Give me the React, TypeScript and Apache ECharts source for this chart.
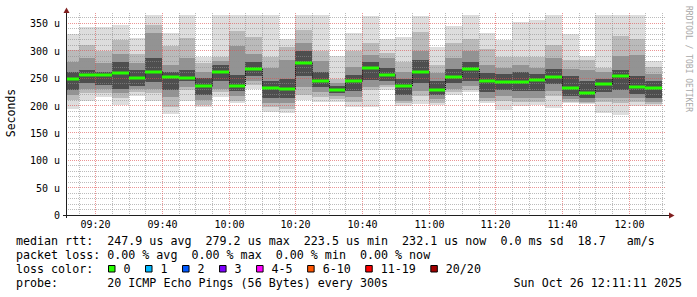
import React, { useEffect, useRef } from 'react';
import * as echarts from 'echarts';

const FONT = '"DejaVu Sans Mono", "Liberation Mono", monospace';

// time window shown
const windowStart = '09:11:11';
const windowEnd = '12:11:11';

// five-minute slots (start times)
const slotTimes = [
  '09:10', '09:15', '09:20', '09:25', '09:30', '09:35', '09:40', '09:45', '09:50', '09:55',
  '10:00', '10:05', '10:10', '10:15', '10:20', '10:25', '10:30', '10:35', '10:40', '10:45',
  '10:50', '10:55', '11:00', '11:05', '11:10', '11:15', '11:20', '11:25', '11:30', '11:35',
  '11:40', '11:45', '11:50', '11:55', '12:00', '12:05',
];

// smoke (microseconds): outer range .. inner range, and median
const maxs = [332, 345, 345, 348, 324, 366, 334, 366, 290, 366, 366, 366, 366, 322, 366, 366, 291, 333, 365, 322, 327, 364, 308, 346, 366, 333, 321, 354, 357, 366, 331, 291, 366, 366, 366, 282];
const hi2 = [303, 312, 300, 320, 296, 348, 309, 324, 278, 290, 338, 327, 290, 307, 339, 300, 250, 301, 315, 297, 281, 336, 275, 315, 322, 305, 290, 290, 290, 311, 284, 284, 270, 328, 322, 272];
const hi3 = [281, 287, 278, 296, 278, 333, 275, 287, 263, 282, 310, 295, 269, 284, 315, 283, 243, 272, 293, 288, 262, 300, 260, 287, 300, 275, 270, 275, 270, 287, 268, 265, 262, 292, 293, 258];
const hi4 = [263, 266, 263, 281, 266, 288, 263, 266, 251, 275, 257, 280, 245, 250, 300, 262, 236, 257, 280, 270, 250, 285, 245, 268, 280, 260, 258, 262, 258, 268, 255, 245, 250, 265, 255, 245];
const medians = [250, 256, 256, 261, 252, 263, 253, 252, 236, 261.7, 236.7, 268, 233, 230.7, 279.2, 246, 229.5, 245, 270, 257.5, 236.7, 263, 229.4, 253.5, 267.5, 246.5, 244.6, 244, 247.7, 253.5, 233.5, 223.5, 240, 255, 235.5, 232.1];
const lo4 = [230, 242, 239, 232, 237, 244, 229, 245, 220, 245, 228, 254, 214, 214, 254, 235, 224, 228, 248, 245, 220, 242, 220, 242, 245, 225, 230, 228, 228, 240, 218, 214, 226, 230, 222, 215];
const lo3 = [220, 232, 232, 223, 231, 232, 216, 234, 211, 232, 218, 246, 205, 205, 235, 225, 218, 216, 235, 238, 210, 228, 212, 232, 236, 215, 218, 215, 215, 228, 212, 208, 215, 215, 214, 208];
const lo2 = [211, 223, 223, 214, 226, 223, 199, 229, 202, 225, 210, 238, 199, 195, 220, 217, 213, 208, 229, 235, 205, 218, 206, 226, 230, 210, 210, 208, 208, 218, 208, 205, 208, 205, 208, 204];
const mins = [194, 210, 216, 202, 218, 210, 186, 210, 199, 217, 205, 231, 190, 187, 211, 208, 207, 199, 199, 230, 200, 204, 202, 220, 226, 206, 193, 200, 202, 196, 205, 204, 188, 184, 200, 200];

// axis tick labels
const timeLabels = ['09:20', '09:40', '10:00', '10:20', '10:40', '11:00', '11:20', '11:40', '12:00'];
const yMax = 370;
const yLabelStep = 50;
const yGridStep = 10;
const xGridStep = 5;

// legend texts
const legendLine1 = 'median rtt:  247.9 us avg  279.2 us max  223.5 us min  232.1 us now  0.0 ms sd  18.7   am/s';
const legendLine2 = 'packet loss: 0.00 % avg  0.00 % max  0.00 % min  0.00 % now';
const legendLine3 = 'loss color:';
const legendLine4 = 'probe:       20 ICMP Echo Pings (56 Bytes) every 300s';
const dateText = 'Sun Oct 26 12:11:11 2025';
const lossLabels = ['0', '1', '2', '3', '4-5', '6-10', '11-19', '20/20'];
const lossColors = ['#26ff00', '#00b8ff', '#0059ff', '#7e00ff', '#ff00ff', '#ff5500', '#ff0000', '#a10000'];

const toMin = (s: string) => {
  const p = s.split(':').map(Number);
  return (p[0] - 9) * 60 + p[1] + (p[2] || 0) / 60;
};
const X_MIN = toMin(windowStart);
const X_MAX = toMin(windowEnd);
const SLOT = 5;

const SMOKE = ['#dddddd', '#bababa', '#939393', '#4e4e4e'];
const GRID = 'rgba(143,143,143,0.6)';
const MGRID = 'rgba(222,79,79,0.6)';
const AXIS = '#1f1f1f';
const ARROW = '#801f1f';
const CW = 7.02;
const LX = 16;
const LFS = 11.67;

function buildOption() {
  const smokeData = slotTimes.map((t, i) => [toMin(t), toMin(t) + SLOT, mins[i], lo2[i], lo3[i], lo4[i], hi4[i], hi3[i], hi2[i], maxs[i]]);
  const medData = slotTimes.map((t, i) => [toMin(t), toMin(t) + SLOT, medians[i], i > 0 ? medians[i - 1] : medians[i]]);

  const labelMins = timeLabels.map(toMin);
  const vTicks: { t: number; label: string | null }[] = [];
  for (let t = Math.ceil(X_MIN / xGridStep) * xGridStep; t <= X_MAX; t += xGridStep) {
    const li = labelMins.indexOf(t);
    vTicks.push({ t, label: li >= 0 ? timeLabels[li] : null });
  }
  const hTicks: number[] = [];
  for (let v = yGridStep; v < yMax; v += yGridStep) hTicks.push(v);

  const clampX = (cs: any, x: number) => Math.min(cs.x + cs.width, Math.max(cs.x, Math.round(x)));

  const smokeSeries = {
    type: 'custom',
    silent: true,
    z: 2,
    data: smokeData,
    encode: { x: [0, 1], y: [2, 3, 4, 5, 6, 7, 8, 9] },
    renderItem: (params: any, api: any) => {
      const cs = params.coordSys;
      const xa = clampX(cs, api.coord([api.value(0), 0])[0]);
      const xb = clampX(cs, api.coord([api.value(1), 0])[0]);
      const yy = (v: number) => Math.round(api.coord([api.value(0), v])[1]);
      const band = (lo: number, hi: number, color: string) => ({
        type: 'rect',
        shape: { x: xa, y: yy(hi), width: xb - xa, height: yy(lo) - yy(hi) },
        style: { fill: color },
      });
      return {
        type: 'group',
        children: [
          band(api.value(2), api.value(9), SMOKE[0]),
          band(api.value(3), api.value(8), SMOKE[1]),
          band(api.value(4), api.value(7), SMOKE[2]),
          band(api.value(5), api.value(6), SMOKE[3]),
        ],
      };
    },
  };

  const vGridSeries = {
    type: 'custom',
    silent: true,
    z: 3,
    data: vTicks.map((d) => [d.t, 0]),
    encode: { x: 0, y: 1 },
    renderItem: (params: any, api: any) => {
      const cs = params.coordSys;
      const tk = vTicks[params.dataIndex];
      const x = Math.round(api.coord([api.value(0), 0])[0]) + 0.5;
      const children: any[] = [
        {
          type: 'line',
          shape: { x1: x, y1: cs.y, x2: x, y2: cs.y + cs.height },
          style: { stroke: tk.label ? MGRID : GRID, lineWidth: 1, lineDash: [1, 1] },
        },
      ];
      if (tk.label) {
        children.push({
          type: 'text',
          style: {
            text: tk.label, x: x, y: cs.y + cs.height + 8.5,
            fontFamily: FONT, fontSize: 10, fill: '#000',
            align: 'center', verticalAlign: 'middle', textAlign: 'center', textVerticalAlign: 'middle',
          },
        });
      }
      return { type: 'group', children };
    },
  };

  const hGridSeries = {
    type: 'custom',
    silent: true,
    z: 3,
    data: hTicks.map((v) => [X_MIN, v]),
    encode: { x: 0, y: 1 },
    renderItem: (params: any, api: any) => {
      const cs = params.coordSys;
      const v = api.value(1);
      const y = Math.round(api.coord([X_MIN, v])[1]) - 0.5;
      return {
        type: 'line',
        shape: { x1: cs.x, y1: y, x2: cs.x + cs.width, y2: y },
        style: { stroke: v % yLabelStep === 0 ? MGRID : GRID, lineWidth: 1, lineDash: [1, 1] },
      };
    },
  };

  const medSeries = {
    type: 'custom',
    silent: true,
    z: 4,
    data: medData,
    encode: { x: [0, 1], y: [2, 3] },
    renderItem: (params: any, api: any) => {
      const cs = params.coordSys;
      const xa = clampX(cs, api.coord([api.value(0), 0])[0]);
      const xb = clampX(cs, api.coord([api.value(1), 0])[0]);
      const ym = api.coord([api.value(0), api.value(2)])[1];
      const yp = api.coord([api.value(0), api.value(3)])[1];
      const children: any[] = [];
      if (params.dataIndex > 0) {
        children.push({
          type: 'line',
          shape: { x1: xa + 0.5, y1: yp, x2: xa + 0.5, y2: ym },
          style: { stroke: '#111', lineWidth: 1, lineDash: [1, 1] },
        });
      }
      children.push({
        type: 'rect',
        shape: { x: xa, y: Math.round(ym) - 1.5, width: xb - xa, height: 3 },
        style: { fill: lossColors[0] },
      });
      return { type: 'group', children };
    },
  };

  const graphic: any[] = [];
  const txt = (text: string, x: number, y: number, extra: any = {}) => ({
    type: 'text', x, y, z: 20, silent: true,
    style: {
      text, fill: '#000', font: `${LFS}px ${FONT}`, fontFamily: FONT, fontSize: LFS,
      align: 'left', verticalAlign: 'middle', textAlign: 'left', textVerticalAlign: 'middle',
      ...extra,
    },
  });
  const phrases = (line: string, y: number) => {
    const re = /\S+(?: \S+)*/g;
    let m: RegExpExecArray | null;
    while ((m = re.exec(line))) graphic.push(txt(m[0], LX + m.index * CW, y));
  };
  phrases(legendLine1, 241);
  phrases(legendLine2, 255);
  phrases(legendLine3, 269);
  phrases(legendLine4, 283);
  graphic.push(txt(dateText, 682, 283, { align: 'right', textAlign: 'right' }));

  let bx = 108.5;
  lossLabels.forEach((lab, i) => {
    graphic.push({
      type: 'rect', z: 20, silent: true,
      shape: { x: bx, y: 265.5, width: 6.5, height: 6.5 },
      style: { fill: lossColors[i], stroke: '#000', lineWidth: 1 },
    });
    const lx = bx + 15;
    graphic.push(txt(lab, lx, 269));
    bx = lx + lab.length * CW + 15;
  });

  // axes and arrows
  graphic.push({ type: 'line', z: 20, silent: true, shape: { x1: 66.5, y1: 12, x2: 66.5, y2: 218 }, style: { stroke: AXIS, lineWidth: 1 } });
  graphic.push({ type: 'line', z: 20, silent: true, shape: { x1: 63, y1: 215.5, x2: 670, y2: 215.5 }, style: { stroke: AXIS, lineWidth: 1 } });
  graphic.push({ type: 'polygon', z: 21, silent: true, shape: { points: [[63.5, 13], [69.5, 13], [66.5, 7.5]] }, style: { fill: ARROW } });
  graphic.push({ type: 'polygon', z: 21, silent: true, shape: { points: [[669, 212.5], [669, 218.5], [674.5, 215.5]] }, style: { fill: ARROW } });

  // axis title and watermark
  graphic.push({
    type: 'text', x: 11, y: 113, rotation: Math.PI / 2, z: 20, silent: true,
    style: { text: 'Seconds', fill: '#000', font: `11.5px ${FONT}`, fontFamily: FONT, fontSize: 11.5, align: 'center', verticalAlign: 'middle', textAlign: 'center', textVerticalAlign: 'middle' },
  });
  graphic.push({
    type: 'text', x: 688, y: 59, rotation: -Math.PI / 2, z: 20, silent: true,
    style: { text: 'RRDTOOL / TOBI OETIKER', fill: '#a8a8a8', font: `8px ${FONT}`, fontFamily: FONT, fontSize: 8, align: 'center', verticalAlign: 'middle', textAlign: 'center', textVerticalAlign: 'middle' },
  });

  return {
    animation: false,
    backgroundColor: '#ffffff',
    grid: { left: 66, right: 31, top: 13, bottom: 81.5, containLabel: false },
    xAxis: {
      type: 'value', min: X_MIN, max: X_MAX,
      axisLine: { show: false }, axisTick: { show: false }, axisLabel: { show: false }, splitLine: { show: false },
    },
    yAxis: {
      type: 'value', min: 0, max: yMax, interval: yLabelStep,
      axisLine: { show: false }, axisTick: { show: false }, splitLine: { show: false },
      axisLabel: {
        formatter: (v: number) => (v % yLabelStep === 0 && v < yMax ? (v === 0 ? '0' : `${v} u`) : ''),
        fontFamily: FONT, fontSize: 10, color: '#000', margin: 6,
      },
    },
    series: [smokeSeries, hGridSeries, vGridSeries, medSeries],
    graphic,
  };
}

export default function App() {
  const ref = useRef<HTMLDivElement>(null);
  useEffect(() => {
    if (!ref.current) return;
    const chart = echarts.init(ref.current, null, { renderer: 'svg' });
    chart.setOption(buildOption() as any);
    return () => chart.dispose();
  }, []);
  return <div ref={ref} style={{ position: 'fixed', left: 0, top: 0, width: 697, height: 297, background: '#fff' }} />;
}
